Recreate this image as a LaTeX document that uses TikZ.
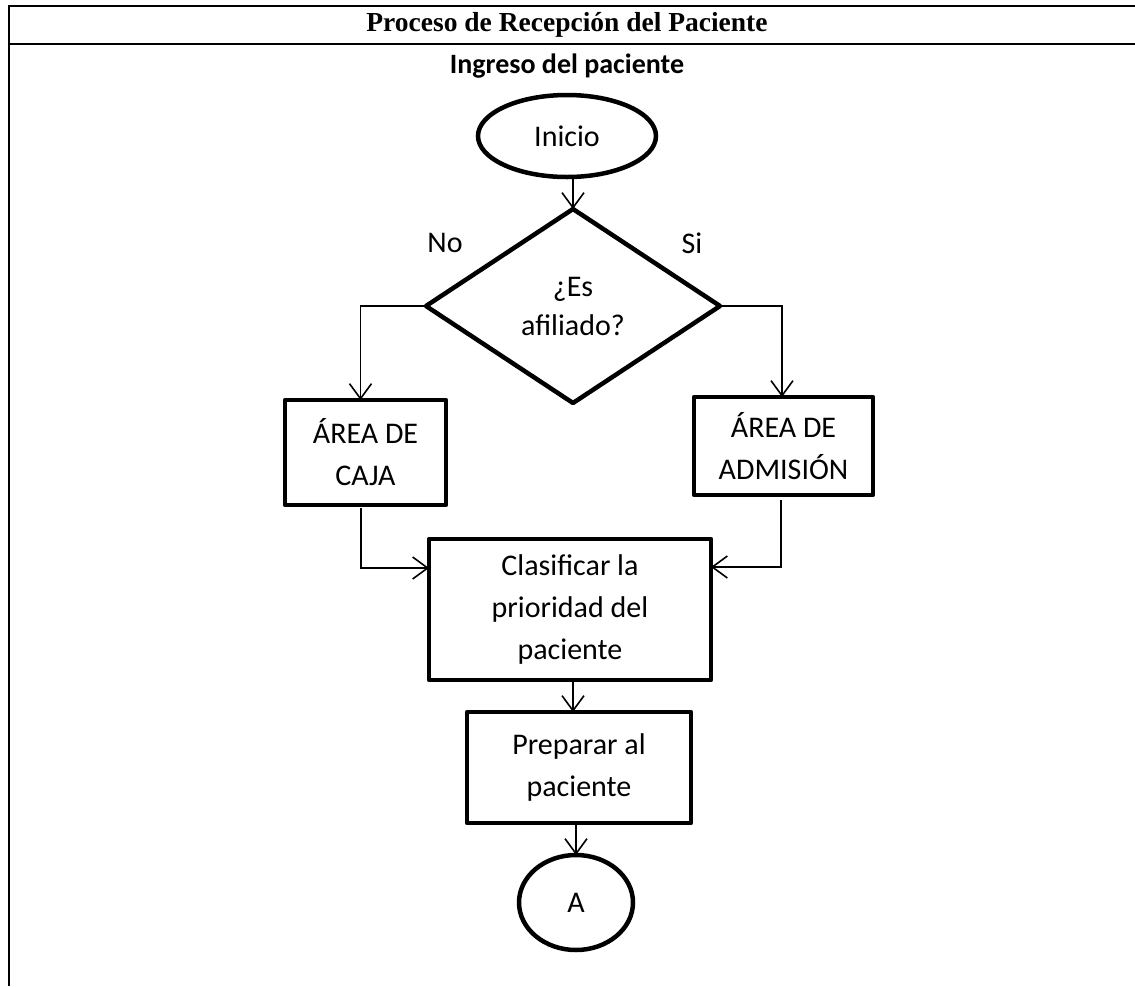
\documentclass[tikz,border=0pt]{standalone}
\usepackage{fontspec}
\setmainfont{Carlito}
\newfontfamily\titlefont{Liberation Serif}
\usetikzlibrary{shapes.geometric,arrows.meta}

\begin{document}
\begin{tikzpicture}[x=1pt,y=-1pt,
  every node/.style={inner sep=0pt, outer sep=0pt},
  bodytext/.style={font=\fontsize{30}{42}\selectfont, align=center},
  shapebox/.style={draw, line width=4.5pt, line join=round, rectangle, bodytext},
  shapeoval/.style={draw, line width=4.5pt, ellipse, bodytext},
  shapediamond/.style={draw, line width=4.5pt, line join=round, diamond, bodytext},
  flow/.style={line width=1.6pt, -{Straight Barb[length=15pt,width=22pt,line width=1.6pt]}},
  rule/.style={line width=2.4pt}
]
\useasboundingbox (0,0) rectangle (1135,986);

% table frame
\draw[rule] (1135,6) -- (9,6) -- (9,986);
\draw[rule] (9,44) -- (1135,44);

\node (title) at (567,25) {\titlefont\bfseries\fontsize{27.5}{30}\selectfont Proceso de Recepción del Paciente};
\node (sub) at (567,66) {\bfseries\fontsize{28}{32}\selectfont Ingreso del paciente};

% flowchart shapes
\node[shapeoval, minimum width=178pt, minimum height=82pt] (inicio) at (567,136) {Inicio};
\node[shapediamond, minimum width=294pt, minimum height=194pt, font=\fontsize{30}{39}\selectfont] (dec) at (573,306) {¿Es\\afiliado?};
\node[shapebox, minimum width=161pt, minimum height=105pt] (caja) at (365.5,452.5) {ÁREA DE\\CAJA};
\node[shapebox, minimum width=179pt, minimum height=98pt] (adm) at (783.5,446) {ÁREA DE\\ADMISIÓN};
\node[shapebox, minimum width=282pt, minimum height=141pt] (clas) at (570,609.5) {Clasificar la\\prioridad del\\paciente};
\node[shapebox, minimum width=224pt, minimum height=111pt] (prep) at (579,767.5) {Preparar al\\paciente};
\node[shapeoval, minimum width=114pt, minimum height=95pt] (a) at (576,902.5) {A};

% branch labels
\node[bodytext] (no) at (445,243) {No};
\node[bodytext] (si) at (692,243) {Si};

% connectors
\draw[flow] (dec.north |- inicio.south) -- (dec.north);
\draw[flow] (dec.west) -| ([xshift=-5pt]caja.north);
\draw[flow] (dec.east) -| ([xshift=-1.5pt]adm.north);
\draw[flow] ([xshift=-4.5pt,yshift=-3pt]caja.south) |- ([yshift=41.5pt]clas.west);
\draw[flow] ([xshift=-2.5pt,yshift=-5pt]adm.south) |- ([yshift=42.5pt]clas.east);
\draw[flow] ([xshift=3pt]clas.south) -- ([xshift=3pt]clas.south |- prep.north);
\draw[flow] (a.north |- prep.south) -- (a.north);
\end{tikzpicture}
\end{document}
